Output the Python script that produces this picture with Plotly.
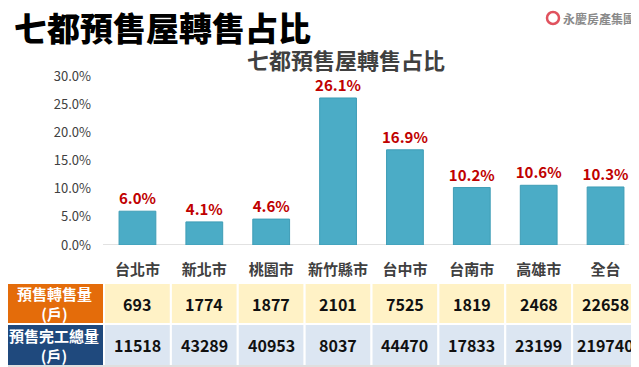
import plotly.graph_objects as go

# The page body adds an 8px margin, so the figure is sized to fit the window
# and all layout positions below are given in window pixels, then converted.
OFF = 8
W, H = 639 - OFF, 367 - OFF

cities = ["台北市", "新北市", "桃園市", "新竹縣市", "台中市", "台南市", "高雄市", "全台"]
resale_share = [6.0, 4.1, 4.6, 26.1, 16.9, 10.2, 10.6, 10.3]
resale_units = [693, 1774, 1877, 2101, 7525, 1819, 2468, 22658]
completed_units = [11518, 43289, 40953, 8037, 44470, 17833, 23199, 219740]
row_labels = ["預售轉售量<br>(戶)", "預售完工總量<br>(戶)"]
y_ticks = [0, 5, 10, 15, 20, 25, 30]
y_tick_text = ["0.0%", "5.0%", "10.0%", "15.0%", "20.0%", "25.0%", "30.0%"]

title_text = "七都預售屋轉售占比"
chart_title = "七都預售屋轉售占比"

FONT = "Noto Sans CJK TC"

def px(x):
    return (x - OFF) / W

def py(y):
    return 1 - (y - OFF) / H

fig = go.Figure()
fig.add_trace(go.Bar(
    x=cities, y=resale_share,
    marker=dict(color="#4BACC6", line=dict(color="#3E9DB6", width=1)),
    texttemplate="%{y:.1f}%", textposition="outside", constraintext="none",
    textfont=dict(family=FONT, size=15, color="#C00000", weight="bold"),
    cliponaxis=False, hoverinfo="skip",
))

shapes = []
annotations = []

# axis baseline
shapes.append(dict(type="line", xref="paper", yref="y", x0=px(103), x1=px(629), y0=0, y1=0,
                   line=dict(color="#D9D9D9", width=1.5), layer="below"))

# table rows
rows = [
    dict(vals=resale_units, head="#E46C0A", cell="#FFF2C6", y0=283, y1=324),
    dict(vals=completed_units, head="#1F497D", cell="#DCE6F2", y0=324, y1=366),
]
for r, lab in zip(rows, row_labels):
    shapes.append(dict(type="rect", xref="paper", yref="paper", x0=px(0), x1=px(104),
                       y0=py(r["y1"]), y1=py(r["y0"]), fillcolor=r["head"],
                       line=dict(color="white", width=2)))
    annotations.append(dict(xref="paper", yref="paper", x=px(54), y=py((r["y0"] + r["y1"]) / 2),
                            xanchor="center", yanchor="middle",
                            text=lab, showarrow=False,
                            font=dict(family=FONT, size=15, color="white", weight="bold")))
    for i, (c, v) in enumerate(zip(cities, r["vals"])):
        shapes.append(dict(type="rect", xref="x", yref="paper", x0=i - 0.5, x1=i + 0.5,
                           y0=py(r["y1"]), y1=py(r["y0"]), fillcolor=r["cell"],
                           line=dict(color="white", width=2)))
        annotations.append(dict(xref="x", yref="paper", x=c, y=py((r["y0"] + r["y1"]) / 2),
                                xanchor="center", yanchor="middle",
                                text=str(v), showarrow=False,
                                font=dict(family=FONT, size=16, color="#111111", weight="bold")))
shapes.append(dict(type="line", xref="paper", yref="paper", x0=px(0), x1=px(639), y0=py(366), y1=py(366),
                   line=dict(color="#BFBFBF", width=1)))

# titles
annotations.append(dict(xref="paper", yref="paper", x=px(12), y=py(27), xanchor="left", yanchor="middle",
                        text=title_text, showarrow=False,
                        font=dict(family=FONT, size=33, color="#000000", weight=900)))
annotations.append(dict(xref="paper", yref="paper", x=px(346), y=py(59), xanchor="center", yanchor="middle",
                        text=chart_title, showarrow=False,
                        font=dict(family=FONT, size=22, color="#404040", weight="bold")))

# logo
shapes.append(dict(type="circle", xref="paper", yref="paper", x0=px(547), x1=px(559), y0=py(24), y1=py(12),
                   line=dict(color="#E0525E", width=2.5), fillcolor="white"))
annotations.append(dict(xref="paper", yref="paper", x=px(561), y=py(18), xanchor="left", yanchor="middle",
                        text="永慶房產集團", showarrow=False,
                        font=dict(family=FONT, size=12, color="#8A8A8A", weight="bold")))

fig.update_layout(
    template="none",
    width=W, height=H,
    margin=dict(l=0, r=0, t=0, b=0, pad=0, autoexpand=False),
    paper_bgcolor="white", plot_bgcolor="white",
    showlegend=False,
    bargap=0.45,
    shapes=shapes, annotations=annotations,
    xaxis=dict(domain=[px(104), px(639)], range=[-0.5, 7.5], showline=False, showgrid=False,
               zeroline=False, ticks="", ticklabelstandoff=14, automargin=False,
               tickfont=dict(family=FONT, size=15, color="#404040", weight="bold")),
    yaxis=dict(domain=[py(245), py(76)], range=[0, 30], tickvals=y_ticks, ticktext=y_tick_text,
               showgrid=False, zeroline=False, showline=False, automargin=False,
               ticks="", ticklabelstandoff=12,
               tickfont=dict(family=FONT, size=13, color="#404040")),
)

fig.write_html("out.html")
